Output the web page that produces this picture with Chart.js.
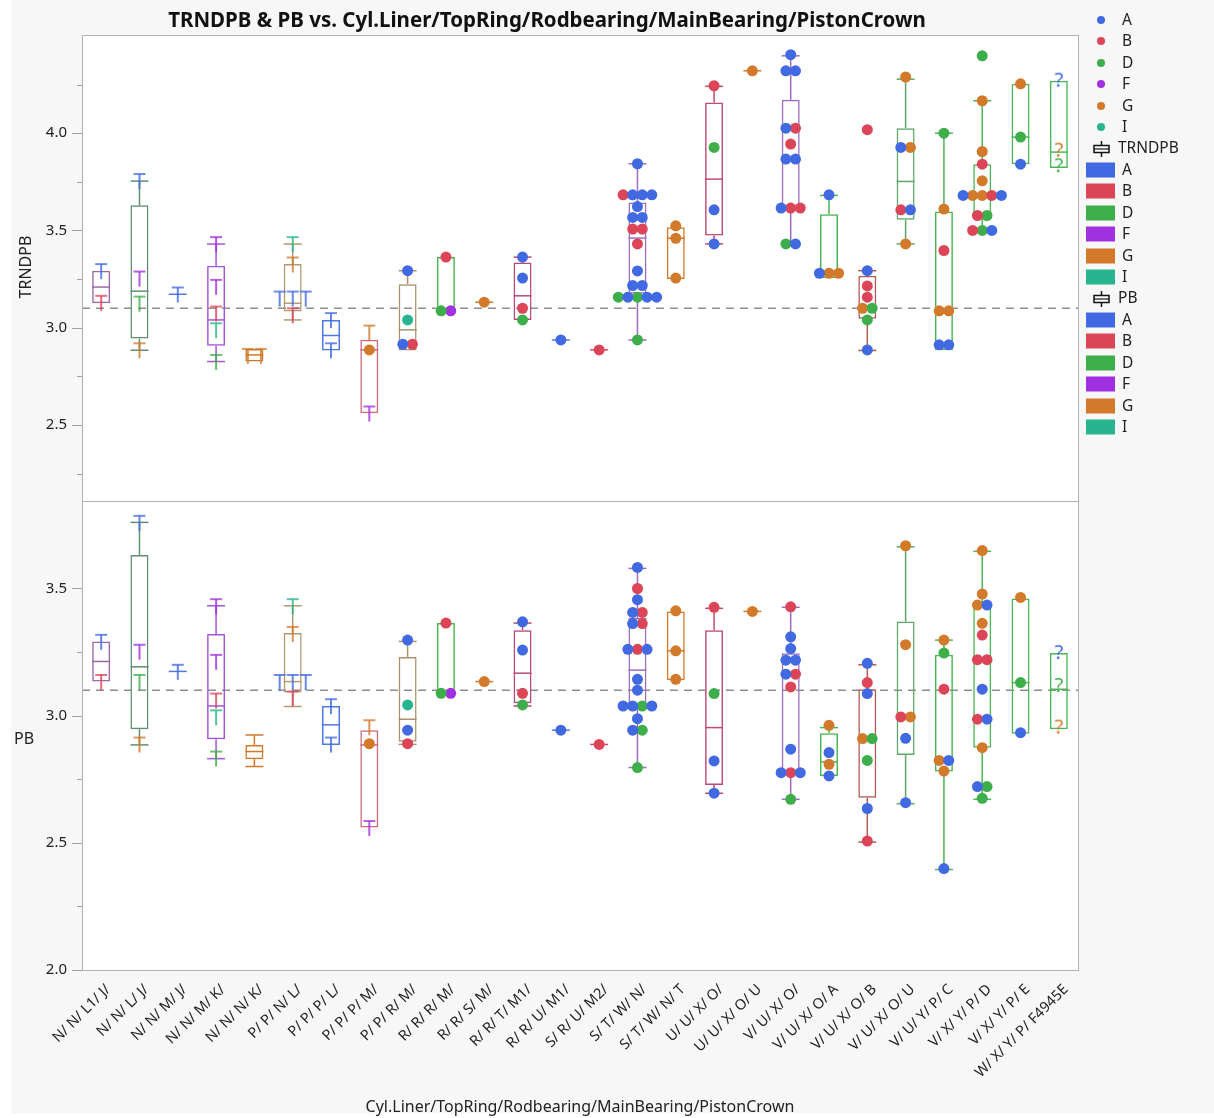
<!DOCTYPE html>
<html>
<head>
<meta charset="utf-8">
<script src="https://cdn.jsdelivr.net/npm/chart.js@4.4.1/dist/chart.umd.min.js"></script>
<style>
  html, body { margin: 0; padding: 0; background: #ffffff; }
  #stage { position: relative; width: 1214px; height: 1118px; overflow: hidden;
           font-family: "Noto Sans", "DejaVu Sans", sans-serif; color: #222; }
  #backdrop { position: absolute; left: 11px; top: 0; width: 1203px; height: 1114px; background: #f7f7f7; }
  #plot { position: absolute; left: 0; top: 0; }
  .txt { position: absolute; white-space: nowrap; line-height: 1; }
  .mid { transform: translateY(-50%); }
  .title { left: 547px; top: 19px; transform: translate(-50%, -50%); font-weight: bold; font-size: 20.5px; color: #111; }
  .ytitle { font-size: 16px; }
  .xtitle { left: 580px; top: 1106px; transform: translate(-50%, -50%); font-size: 16px; }
  .leg { font-size: 15.5px; }
  .dot { position: absolute; width: 8px; height: 8px; border-radius: 50%; transform: translate(-50%, -50%); }
  .swatch { position: absolute; width: 29px; height: 15px; transform: translateY(-50%); }
</style>
</head>
<body>
<div id="stage">
  <div id="backdrop"></div>
  <canvas id="plot" width="1214" height="1118"></canvas>
  <div class="txt title">TRNDPB &amp; PB vs. Cyl.Liner/TopRing/Rodbearing/MainBearing/PistonCrown</div>
  <div class="txt ytitle" style="left:25px; top:267px; transform: translate(-50%, -50%) rotate(-90deg);">TRNDPB</div>
  <div class="txt ytitle" style="left:14px; top:738px; transform: translateY(-50%);">PB</div>
  <div class="txt xtitle">Cyl.Liner/TopRing/Rodbearing/MainBearing/PistonCrown</div>
  <div id="legend"></div>
</div>
<script>
// ---- categories and colours ----
const categories = [
  'N/ N/ L1/ J/', 'N/ N/ L/ J/', 'N/ N/ M/ J/', 'N/ N/ M/ K/', 'N/ N/ N/ K/',
  'P/ P/ N/ L/', 'P/ P/ P/ L/', 'P/ P/ P/ M/', 'P/ P/ R/ M/', 'R/ R/ R/ M/',
  'R/ R/ S/ M/', 'R/ R/ T/ M1/', 'R/ R/ U/ M1/', 'S/ R/ U/ M2/', 'S/ T/ W/ N/',
  'S/ T/ W/ N/ T', 'U/ U/ X/ O/', 'U/ U/ X/ O/ U', 'V/ U/ X/ O/', 'V/ U/ X/ O/ A',
  'V/ U/ X/ O/ B', 'V/ U/ X/ O/ U', 'V/ U/ Y/ P/ C', 'V/ X/ Y/ P/ D', 'V/ X/ Y/ P/ E',
  'W/ X/ Y/ P/ F4945E'
];
const boxColors = [
  '#9B6AA5', '#5E8F70', '#4F78E0', '#A455D8', '#D07A2A',
  '#B09A72', '#4F78E0', '#D26A7A', '#A8926E', '#4CB654',
  '#D07A2A', '#B44A7A', '#4F78E0', '#DC4558', '#9A6CC0',
  '#D07A2A', '#C04A74', '#D07A2A', '#9A6CC0', '#4CB654',
  '#AF5A55', '#5CA86A', '#4CB654', '#4CB654', '#4CB654',
  '#4CB654'
];
const groups = ['A', 'B', 'D', 'F', 'G', 'I'];
const groupColors = ['#4169E1', '#DC4558', '#3DAE49', '#A030E0', '#D2792A', '#28B48E'];
const refLevel = 3.1;

// ---- TRNDPB box statistics ----
const trnQ1     = [3.126, 2.944, 3.172, 2.907, 2.826, 3.083, 2.883, 2.560, 2.883, 3.087, 3.131, 3.040, 2.937, 2.886, 3.174, 3.251, 3.474, 4.321, 3.615, 3.255, 3.046, 3.555, 2.886, 3.577, 3.841, 3.821];
const trnMedian = [3.209, 3.188, 3.172, 3.040, 2.860, 3.126, 2.960, 2.886, 2.989, 3.087, 3.131, 3.164, 2.937, 2.886, 3.461, 3.460, 3.764, 4.321, 3.867, 3.275, 3.110, 3.752, 3.087, 3.680, 3.980, 3.903];
const trnQ3     = [3.293, 3.629, 3.172, 3.318, 2.891, 3.327, 3.040, 2.938, 3.224, 3.363, 3.131, 3.335, 2.937, 2.886, 3.644, 3.517, 4.158, 4.321, 4.172, 3.584, 3.267, 4.026, 3.598, 3.841, 4.254, 4.270];
const trnLow    = [null, 2.884, null, 2.826, null, 3.040, null, null, null, null, null, null, null, null, 2.937, null, 3.431, null, 3.431, null, 2.883, 3.431, null, 3.500, null, null];
const trnHigh   = [null, 3.754, null, 3.430, null, 3.430, null, null, 3.293, null, null, 3.363, null, null, 3.843, null, 4.241, null, 4.398, 3.680, 3.293, 4.278, 4.000, 4.167, null, null];

// TRNDPB observations: [category, value, groups side by side]
const trnDots = [
  [7, 2.886, 'G'],
  [8, 3.293, 'A'], [8, 3.040, 'I'], [8, 2.915, 'AB'],
  [9, 3.363, 'B'], [9, 3.087, 'DF'],
  [10, 3.131, 'G'],
  [11, 3.363, 'A'], [11, 3.255, 'A'], [11, 3.100, 'B'], [11, 3.040, 'D'],
  [12, 2.937, 'A'],
  [13, 2.886, 'B'],
  [14, 3.843, 'A'], [14, 3.683, 'BAAA'], [14, 3.623, 'A'], [14, 3.567, 'AA'], [14, 3.507, 'BB'],
  [14, 3.431, 'B'], [14, 3.292, 'A'], [14, 3.217, 'AA'], [14, 3.157, 'DADAA'], [14, 2.937, 'D'],
  [15, 3.524, 'G'], [15, 3.460, 'G'], [15, 3.255, 'G'],
  [16, 4.244, 'B'], [16, 3.927, 'D'], [16, 3.606, 'A'], [16, 3.431, 'A'],
  [17, 4.321, 'G'],
  [18, 4.404, 'A'], [18, 4.321, 'AA'], [18, 4.026, 'AB'], [18, 3.944, 'B'], [18, 3.867, 'AA'],
  [18, 3.615, 'ABB'], [18, 3.431, 'DA'],
  [19, 3.683, 'A'], [19, 3.280, 'AGG'],
  [20, 4.018, 'B'], [20, 3.293, 'A'], [20, 3.215, 'B'], [20, 3.157, 'B'], [20, 3.100, 'GD'],
  [20, 3.040, 'D'], [20, 2.886, 'A'],
  [21, 4.289, 'G'], [21, 3.927, 'AG'], [21, 3.606, 'BA'], [21, 3.431, 'G'],
  [22, 4.000, 'D'], [22, 3.610, 'G'], [22, 3.397, 'B'], [22, 3.087, 'GG'], [22, 2.912, 'AA'],
  [23, 4.398, 'D'], [23, 4.167, 'G'], [23, 3.906, 'G'], [23, 3.841, 'B'], [23, 3.755, 'G'],
  [23, 3.680, 'AGGBA'], [23, 3.577, 'BD'], [23, 3.500, 'BDA'],
  [24, 4.254, 'G'], [24, 3.980, 'D'], [24, 3.841, 'A']
];
// TRNDPB observations shown with the T marker
const trnTees = [
  [0, 3.327, 'A'], [0, 3.164, 'B'],
  [1, 3.790, 'A'], [1, 3.289, 'F'], [1, 3.160, 'D'], [1, 2.920, 'G'],
  [2, 3.207, 'A'],
  [3, 3.466, 'F'], [3, 3.246, 'F'], [3, 3.109, 'B'], [3, 3.023, 'I'], [3, 2.860, 'D'],
  [4, 2.891, 'GG'],
  [5, 3.466, 'I'], [5, 3.361, 'G'], [5, 3.186, 'AAA'], [5, 3.100, 'B'],
  [6, 3.075, 'A'], [6, 2.920, 'A'],
  [7, 3.011, 'G'], [7, 2.595, 'F']
];
// TRNDPB observations with an unresolved marker
const trnUnknown = [[25, 4.270, 'A'], [25, 3.910, 'G'], [25, 3.830, 'D']];

// ---- PB box statistics ----
const pbQ1     = [3.134, 2.947, 3.174, 2.907, 2.829, 3.091, 2.885, 2.560, 2.897, 3.088, 3.134, 3.049, 2.943, 2.887, 3.029, 3.139, 2.727, 3.410, 2.776, 2.763, 2.677, 2.845, 2.780, 2.874, 2.929, 2.947];
const pbMedian = [3.213, 3.192, 3.174, 3.038, 2.859, 3.134, 2.964, 2.885, 2.986, 3.088, 3.134, 3.167, 2.943, 2.887, 3.179, 3.255, 2.953, 3.410, 3.163, 2.818, 2.910, 2.993, 2.824, 3.218, 3.130, 3.104];
const pbQ3     = [3.292, 3.632, 3.174, 3.321, 2.885, 3.325, 3.038, 2.943, 3.231, 3.364, 3.134, 3.336, 2.943, 2.887, 3.384, 3.410, 3.336, 3.410, 3.245, 2.931, 3.104, 3.370, 3.239, 3.432, 3.461, 3.246];
const pbLow    = [null, 2.885, null, 2.831, 2.800, 3.036, null, null, 2.887, null, null, 3.038, null, null, 2.796, null, 2.695, null, 2.671, null, 2.503, 2.654, 2.395, 2.671, null, null];
const pbHigh   = [null, 3.760, null, 3.432, 2.924, 3.432, null, null, 3.292, null, null, 3.364, null, null, 3.579, null, 3.422, null, 3.426, 2.953, 3.200, 3.664, 3.297, 3.646, null, null];

const pbDots = [
  [7, 2.890, 'G'],
  [8, 3.297, 'A'], [8, 3.042, 'I'], [8, 2.943, 'A'], [8, 2.890, 'B'],
  [9, 3.364, 'B'], [9, 3.088, 'DF'],
  [10, 3.134, 'G'],
  [11, 3.369, 'A'], [11, 3.258, 'A'], [11, 3.088, 'B'], [11, 3.042, 'D'],
  [12, 2.943, 'A'],
  [13, 2.887, 'B'],
  [14, 3.583, 'A'], [14, 3.500, 'B'], [14, 3.456, 'A'], [14, 3.406, 'AB'], [14, 3.362, 'AB'],
  [14, 3.261, 'ABA'], [14, 3.143, 'A'], [14, 3.100, 'A'], [14, 3.038, 'AADA'], [14, 2.988, 'A'],
  [14, 2.943, 'AD'], [14, 2.796, 'D'],
  [15, 3.412, 'G'], [15, 3.255, 'G'], [15, 3.143, 'G'],
  [16, 3.426, 'B'], [16, 3.087, 'D'], [16, 2.822, 'A'], [16, 2.695, 'A'],
  [17, 3.410, 'G'],
  [18, 3.428, 'B'], [18, 3.310, 'A'], [18, 3.264, 'A'], [18, 3.218, 'AA'], [18, 3.163, 'AB'],
  [18, 3.113, 'B'], [18, 2.868, 'A'], [18, 2.776, 'ABA'], [18, 2.671, 'D'],
  [19, 2.962, 'G'], [19, 2.855, 'A'], [19, 2.809, 'G'], [19, 2.763, 'A'],
  [20, 3.206, 'A'], [20, 3.130, 'B'], [20, 3.087, 'A'], [20, 2.910, 'GD'], [20, 2.824, 'D'],
  [20, 2.635, 'A'], [20, 2.507, 'B'],
  [21, 3.668, 'G'], [21, 3.279, 'G'], [21, 2.995, 'BG'], [21, 2.911, 'A'], [21, 2.658, 'A'],
  [22, 3.297, 'G'], [22, 3.246, 'D'], [22, 3.104, 'B'], [22, 2.824, 'GA'], [22, 2.782, 'G'], [22, 2.399, 'A'],
  [23, 3.649, 'G'], [23, 3.478, 'G'], [23, 3.435, 'GA'], [23, 3.363, 'G'], [23, 3.317, 'B'],
  [23, 3.220, 'BB'], [23, 3.104, 'A'], [23, 2.986, 'BA'], [23, 2.874, 'G'], [23, 2.721, 'AD'], [23, 2.675, 'D'],
  [24, 3.465, 'G'], [24, 3.130, 'D'], [24, 2.933, 'A']
];
const pbTees = [
  [0, 3.318, 'A'], [0, 3.160, 'B'],
  [1, 3.786, 'A'], [1, 3.279, 'F'], [1, 3.160, 'D'], [1, 2.914, 'G'],
  [2, 3.200, 'A'],
  [3, 3.458, 'F'], [3, 3.239, 'F'], [3, 3.087, 'B'], [3, 3.021, 'I'], [3, 2.859, 'D'],
  [5, 3.458, 'I'], [5, 3.349, 'G'], [5, 3.160, 'AAA'], [5, 3.095, 'B'],
  [6, 3.065, 'A'], [6, 2.914, 'A'],
  [7, 2.982, 'G'], [7, 2.586, 'F']
];
const pbUnknown = [[25, 3.246, 'A'], [25, 3.117, 'D'], [25, 2.953, 'G']];

// ---- drawing helpers ----
const FONT = '"Noto Sans", "DejaVu Sans", sans-serif';
const DOT_GAP = 0.25;   // horizontal spacing of coincident dots, in category units
const TEE_GAP = 0.34;

// Spread rows of coincident observations side by side around their category
function spread(rows, gap) {
  const out = groups.map(() => []);
  rows.forEach(([cat, value, members]) => {
    const n = members.length;
    [...members].forEach((g, k) => {
      out[groups.indexOf(g)].push({ x: cat + (k - (n - 1) / 2) * gap, y: value });
    });
  });
  return out;
}

function teeGlyph(color) {
  const c = document.createElement('canvas');
  c.width = 14; c.height = 32;
  const g = c.getContext('2d');
  g.strokeStyle = color; g.lineWidth = 1.6;
  g.beginPath();
  g.moveTo(1, 16); g.lineTo(13, 16);
  g.moveTo(7, 16); g.lineTo(7, 31);
  g.stroke();
  return c;
}

function questionGlyph(color) {
  const c = document.createElement('canvas');
  c.width = 16; c.height = 26;
  const g = c.getContext('2d');
  g.fillStyle = color;
  g.font = '20px ' + FONT;
  g.textAlign = 'center'; g.textBaseline = 'middle';
  g.fillText('?', 8, 13);
  return c;
}

const teeStyles = groupColors.map(teeGlyph);
const questionStyles = groupColors.map(questionGlyph);
const colorOf = ctx => (ctx.raw ? boxColors[ctx.raw.x] : '#888');
const isMajor = v => Math.abs(v * 2 - Math.round(v * 2)) < 1e-6;

function panelDatasets(axis, q1, med, q3, low, high, dots, tees, unknown) {
  const sets = [];
  const last = categories.length - 0.5;
  sets.push({
    type: 'line', yAxisID: axis, order: 9,
    data: [{ x: -0.5, y: refLevel }, { x: last, y: refLevel }],
    borderColor: '#8e8e8e', borderWidth: 1.5, borderDash: [8, 6], pointRadius: 0
  });
  sets.push({
    type: 'bar', yAxisID: axis, order: 8, grouped: false,
    data: categories.map((c, i) => ({ x: i, y: [q1[i], q3[i]] })),
    backgroundColor: 'rgba(255,255,255,0)', borderColor: boxColors,
    borderWidth: 1.5, borderSkipped: false, maxBarThickness: 18
  });
  const stems = [], caps = [];
  categories.forEach((c, i) => {
    if (high[i] != null) { stems.push({ x: i, y: [q3[i], high[i]] }); caps.push({ x: i, y: high[i] }); }
    if (low[i] != null)  { stems.push({ x: i, y: [low[i], q1[i]] });  caps.push({ x: i, y: low[i] }); }
  });
  sets.push({
    type: 'bar', yAxisID: axis, order: 8, grouped: false, data: stems,
    backgroundColor: colorOf, borderWidth: 0, maxBarThickness: 1.5
  });
  sets.push({
    type: 'scatter', yAxisID: axis, order: 7,
    data: caps.concat(categories.map((c, i) => ({ x: i, y: med[i] }))),
    pointStyle: 'line', pointRadius: 9, pointBorderWidth: 1.5, pointBorderColor: colorOf
  });
  spread(tees, TEE_GAP).forEach((pts, gi) => {
    if (pts.length) sets.push({ type: 'scatter', yAxisID: axis, order: 6, data: pts, pointStyle: teeStyles[gi], pointRadius: 6 });
  });
  spread(unknown, 0).forEach((pts, gi) => {
    if (pts.length) sets.push({ type: 'scatter', yAxisID: axis, order: 6, data: pts, pointStyle: questionStyles[gi], pointRadius: 6 });
  });
  spread(dots, DOT_GAP).forEach((pts, gi) => {
    if (pts.length) sets.push({
      type: 'scatter', yAxisID: axis, order: 5, data: pts,
      pointRadius: 5.5, pointBackgroundColor: groupColors[gi], pointBorderWidth: 0
    });
  });
  return sets;
}

// White panels, frames and axis tick marks
const panelFrame = {
  id: 'panelFrame',
  beforeDatasetsDraw(chart) {
    const { ctx, chartArea } = chart;
    ctx.save();
    ctx.fillStyle = '#ffffff';
    ctx.fillRect(chartArea.left, chartArea.top, chartArea.right - chartArea.left, chartArea.bottom - chartArea.top);
    ctx.restore();
  },
  afterDatasetsDraw(chart) {
    const { ctx, chartArea } = chart;
    ctx.save();
    ctx.lineWidth = 1;
    ['yTop', 'yBot'].forEach(id => {
      const s = chart.scales[id];
      ctx.strokeStyle = '#b2b2b2';
      ctx.strokeRect(Math.round(chartArea.left) + 0.5, Math.round(s.top) + 0.5,
                     Math.round(chartArea.right - chartArea.left), Math.round(s.bottom - s.top));
      ctx.strokeStyle = '#a0a0a0';
      s.ticks.forEach(t => {
        const y = Math.round(s.getPixelForValue(t.value)) + 0.5;
        ctx.beginPath();
        ctx.moveTo(chartArea.left - (isMajor(t.value) ? 10 : 5), y);
        ctx.lineTo(chartArea.left, y);
        ctx.stroke();
      });
    });
    ctx.restore();
  }
};

function yAxis(min, max, weight) {
  return {
    type: 'linear', position: 'left', stack: 'panels', stackWeight: weight,
    min, max, beginAtZero: false,
    grid: { display: false, drawTicks: false }, border: { display: false },
    afterFit: s => { s.width = 82; },
    // keep ticks clear of the panel's upper edge
    afterBuildTicks: s => { s.ticks = s.ticks.filter(t => t.value <= max - 0.1); },
    ticks: {
      stepSize: 0.25, includeBounds: false, padding: 15, color: '#222',
      font: { family: FONT, size: 15 },
      callback: v => (isMajor(v) ? v.toFixed(1) : '')
    }
  };
}

new Chart(document.getElementById('plot'), {
  type: 'scatter',
  data: {
    datasets: [
      ...panelDatasets('yTop', trnQ1, trnMedian, trnQ3, trnLow, trnHigh, trnDots, trnTees, trnUnknown),
      ...panelDatasets('yBot', pbQ1, pbMedian, pbQ3, pbLow, pbHigh, pbDots, pbTees, pbUnknown)
    ]
  },
  options: {
    responsive: false, animation: false, devicePixelRatio: 1,
    layout: { padding: { left: 0, top: 35, right: 136, bottom: 0 } },
    plugins: { legend: { display: false }, tooltip: { enabled: false } },
    scales: {
      x: {
        type: 'linear', min: -0.5, max: categories.length - 0.5, offset: false,
        grid: { display: false, drawTicks: false, offset: false }, border: { display: false },
        afterBuildTicks: s => { s.ticks = categories.map((c, i) => ({ value: i })); },
        afterFit: s => { s.height = 148; },
        ticks: {
          autoSkip: false, minRotation: 45, maxRotation: 45, padding: 11, labelOffset: 7, color: '#222',
          font: { family: FONT, size: 14.5 },
          callback: v => categories[v]
        }
      },
      yBot: yAxis(2.0, 3.844, 469),
      yTop: yAxis(2.109, 4.505, 466)
    }
  },
  plugins: [panelFrame]
});

// ---- legend ----
const legend = document.getElementById('legend');
function legendText(text, x, y) {
  const d = document.createElement('div');
  d.className = 'txt leg mid';
  d.style.left = x + 'px'; d.style.top = y + 'px';
  d.textContent = text;
  legend.appendChild(d);
}
function boxIcon(x, y) {
  const d = document.createElement('div');
  d.style.cssText = 'position:absolute;left:' + x + 'px;top:' + (y - 8) + 'px;width:17px;height:16px;';
  d.innerHTML = '<svg width="17" height="16"><line x1="8.5" y1="0" x2="8.5" y2="16" stroke="#111" stroke-width="1.5"/>' +
                '<rect x="1" y="4.5" width="15" height="7" fill="#fff" stroke="#111" stroke-width="1.5"/>' +
                '<line x1="1" y1="8" x2="16" y2="8" stroke="#111" stroke-width="1.2"/></svg>';
  legend.appendChild(d);
}
groups.forEach((g, i) => {
  const y = 20 + i * 21.4;
  const dot = document.createElement('div');
  dot.className = 'dot';
  dot.style.left = '1101px'; dot.style.top = y + 'px'; dot.style.background = groupColors[i];
  legend.appendChild(dot);
  legendText(g, 1122, y);
});
[['TRNDPB', 148], ['PB', 298]].forEach(([name, y0]) => {
  boxIcon(1093, y0);
  legendText(name, 1118, y0);
  groups.forEach((g, i) => {
    const y = y0 + 21.5 * (i + 1);
    const sw = document.createElement('div');
    sw.className = 'swatch';
    sw.style.left = '1086px'; sw.style.top = y + 'px'; sw.style.background = groupColors[i];
    legend.appendChild(sw);
    legendText(g, 1122, y);
  });
});
</script>
</body>
</html>
